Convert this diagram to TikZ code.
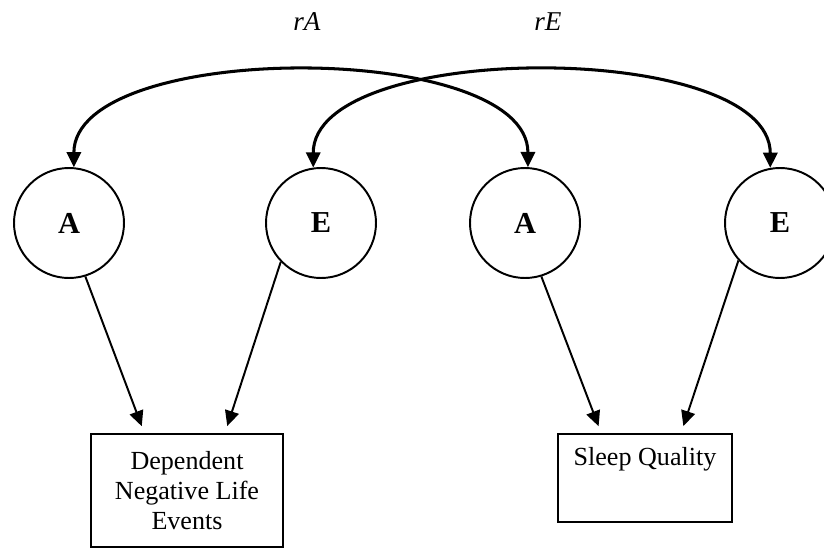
\documentclass[tikz,border=0pt]{standalone}
\usepackage{fontspec}
\setmainfont{Liberation Serif}
\usepackage{tikz}
\usetikzlibrary{positioning, arrows.meta, calc}

\begin{document}
\begin{tikzpicture}[x=0.46pt, y=-0.46pt]
	\tikzset{
		latent/.style={circle, draw, line width=0.9pt, minimum size=50.6pt, inner sep=0pt, font=\fontsize{14}{16}\selectfont\bfseries},
		observed/.style={rectangle, draw, line width=1pt, inner sep=0pt, align=center, font=\fontsize{12}{13.8}\selectfont},
		corr/.style={font=\fontsize{12.5}{14}\selectfont\itshape},
		path/.style={-{Triangle[length=7pt, width=6.5pt]}, line width=0.9pt},
		covpath/.style={{Triangle[length=7pt, width=6.5pt]}-{Triangle[length=7pt, width=6.5pt]}, line width=1.4pt},
	}
	\useasboundingbox (0,0) rectangle (824,549);

	% Latent factors
	\node[latent] (Aneg) at (69,223) {A};
	\node[latent] (Eneg) at (321,223) {E};
	\node[latent] (Asleep) at (525,223) {A};
	\node[latent] (Esleep) at (780,223) {E};

	% Observed measures
	\node[observed, minimum width=88.3pt, minimum height=52pt] (neg) at (187,490.5) {Dependent\\Negative Life\\Events};
	\node[observed, minimum width=80pt, text height=14.7pt, text depth=25.8pt] (sleep) at (645,478) {Sleep Quality};

	% Correlation labels
	\node[corr] (rA) at (307,22) {rA};
	\node[corr] (rE) at (548,22) {rE};

	% Factor loadings
	\draw[path, shorten >=3.3pt] (Aneg.-73) -- ($(neg.north west)!0.28!(neg.north east)$);
	\draw[path, shorten >=3.3pt] (Eneg.-136) -- ($(neg.north west)!0.696!(neg.north east)$);
	\draw[path, shorten >=3.3pt] (Asleep.-73) -- ($(sleep.north west)!0.251!(sleep.north east)$);
	\draw[path, shorten >=3.3pt] (Esleep.-138) -- ($(sleep.north west)!0.705!(sleep.north east)$);

	% Genetic and environmental correlations
	\draw[covpath] (Aneg.85) to[out=90, in=90, looseness=0.72] (Asleep.87);
	\draw[covpath] (Eneg.98) to[out=90, in=90, looseness=0.72] (Esleep.100);
\end{tikzpicture}
\end{document}
